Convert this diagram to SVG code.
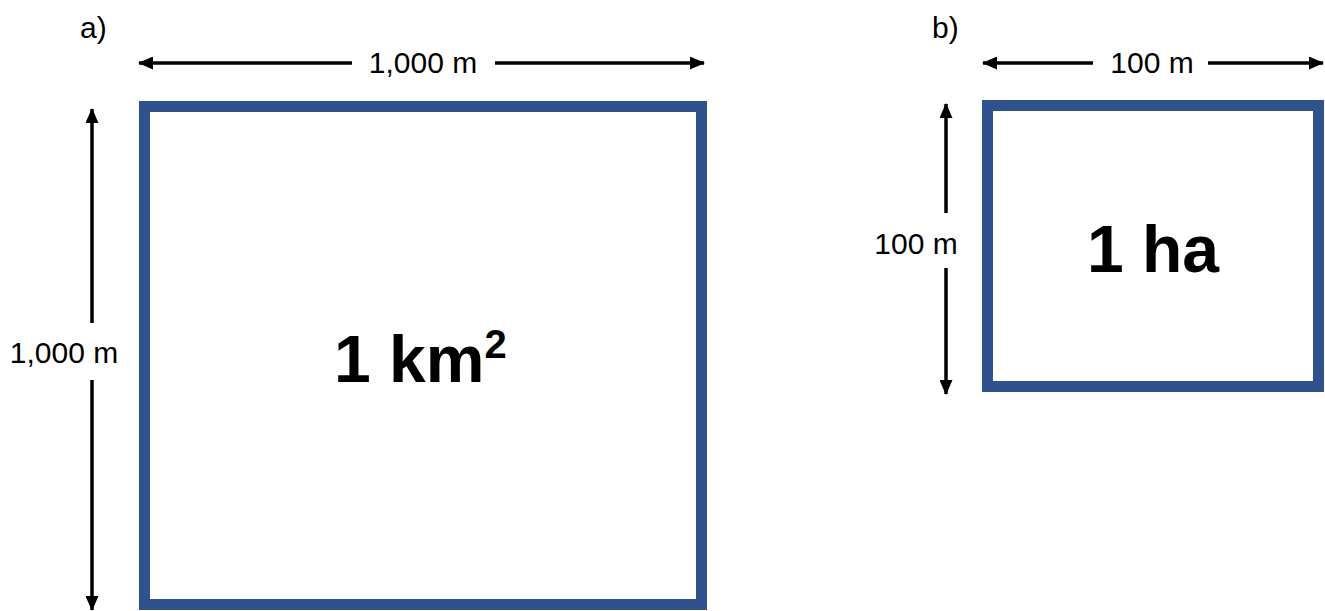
<svg xmlns="http://www.w3.org/2000/svg" width="1325" height="611" viewBox="0 0 1325 611">
<style>
.lbl{font-family:"Liberation Sans",Arial,sans-serif;font-size:30px;fill:#000}
.big{font-family:"Liberation Sans",Arial,sans-serif;font-weight:bold;font-size:66px;fill:#000}
.box{fill:#fff;stroke:#2F528F;stroke-width:11}
.dim{stroke:#000;stroke-width:3.5;fill:none}
</style>
<defs>
<marker id="ah" markerUnits="userSpaceOnUse" markerWidth="15" markerHeight="13" refX="14" refY="6.5" orient="auto-start-reverse">
<path d="M0,0 L15,6.5 L0,13 Z" fill="#000"/>
</marker>
</defs>
<rect width="1325" height="611" fill="#fff"/>
<g id="panel-a">
<text class="lbl" x="80" y="38">a)</text>
<rect id="km2-box" class="box" x="144.5" y="106.5" width="557" height="498"/>
<text class="big" x="334" y="382">1 km<tspan font-size="40" dy="-24">2</tspan></text>
</g>
<g id="panel-b">
<text class="lbl" x="932" y="38">b)</text>
<rect id="ha-box" class="box" x="987.5" y="105.5" width="331" height="281"/>
<text class="big" x="1087" y="272">1 ha</text>
</g>
<g id="connectors">
<line class="dim" x1="352" y1="63" x2="139" y2="63" marker-end="url(#ah)"/>
<line class="dim" x1="495" y1="63" x2="704" y2="63" marker-end="url(#ah)"/>
<text class="lbl" x="423" y="73" text-anchor="middle">1,000 m</text>
<line class="dim" x1="92" y1="323" x2="92" y2="109" marker-end="url(#ah)"/>
<line class="dim" x1="92" y1="380" x2="92" y2="610" marker-end="url(#ah)"/>
<text class="lbl" x="64" y="363" text-anchor="middle">1,000 m</text>
<line class="dim" x1="1093" y1="63" x2="983" y2="63" marker-end="url(#ah)"/>
<line class="dim" x1="1208" y1="63" x2="1323" y2="63" marker-end="url(#ah)"/>
<text class="lbl" x="1152" y="73" text-anchor="middle">100 m</text>
<line class="dim" x1="946" y1="213" x2="946" y2="104" marker-end="url(#ah)"/>
<line class="dim" x1="946" y1="268" x2="946" y2="394" marker-end="url(#ah)"/>
<text class="lbl" x="916" y="254" text-anchor="middle">100 m</text>
</g>
</svg>
